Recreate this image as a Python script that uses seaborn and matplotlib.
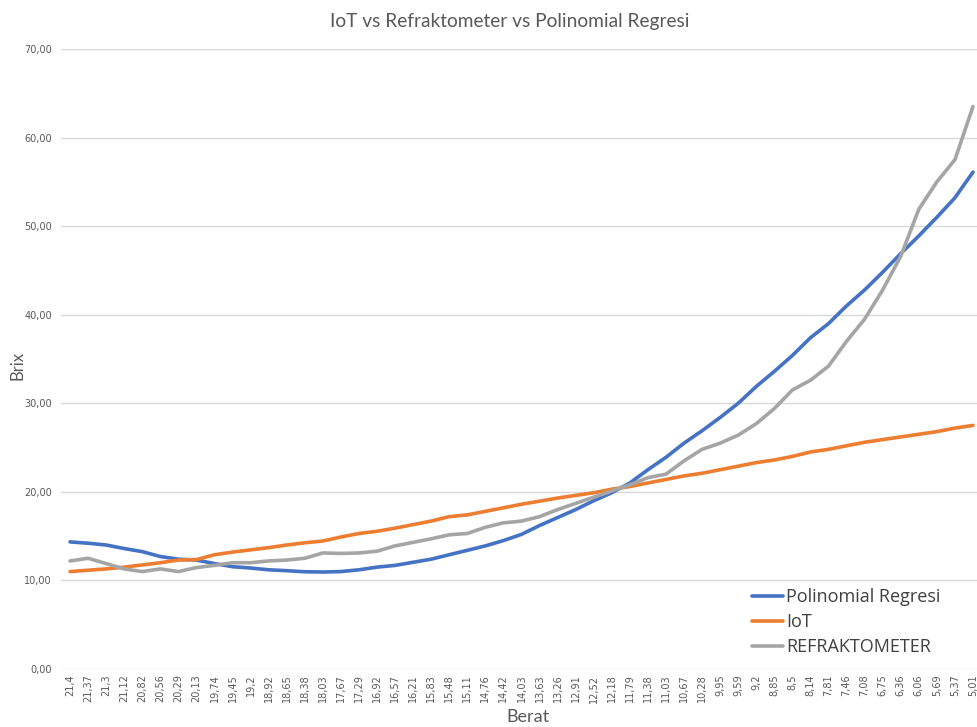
import numpy as np
import pandas as pd
import matplotlib
matplotlib.use("Agg")
import matplotlib.pyplot as plt
import seaborn as sns
from matplotlib.lines import Line2D

# ---- data ----
berat = ["21,4", "21,37", "21,3", "21,12", "20,82", "20,56", "20,29", "20,13", "19,74", "19,45",
         "19,2", "18,92", "18,65", "18,38", "18,03", "17,67", "17,29", "16,92", "16,57", "16,21",
         "15,83", "15,48", "15,11", "14,76", "14,42", "14,03", "13,63", "13,26", "12,91", "12,52",
         "12,18", "11,79", "11,38", "11,03", "10,67", "10,28", "9,95", "9,59", "9,2", "8,85",
         "8,5", "8,14", "7,81", "7,46", "7,08", "6,75", "6,36", "6,06", "5,69", "5,37", "5,01"]

polinomial = [14.35, 14.2, 14.0, 13.6, 13.25, 12.7, 12.4, 12.3, 11.9, 11.55,
              11.4, 11.2, 11.1, 10.98, 10.95, 11.0, 11.2, 11.5, 11.7, 12.05,
              12.4, 12.9, 13.4, 13.9, 14.5, 15.2, 16.2, 17.1, 18.0, 19.0,
              19.9, 21.0, 22.5, 23.9, 25.5, 26.9, 28.4, 30.0, 31.9, 33.6,
              35.4, 37.4, 39.0, 41.0, 42.8, 44.8, 46.9, 48.9, 51.0, 53.2, 56.1]

iot = [11.0, 11.15, 11.3, 11.5, 11.75, 12.0, 12.3, 12.35, 12.9, 13.2,
       13.45, 13.7, 14.0, 14.25, 14.45, 14.9, 15.3, 15.55, 15.9, 16.3,
       16.7, 17.2, 17.4, 17.8, 18.2, 18.6, 18.95, 19.3, 19.6, 19.9,
       20.3, 20.6, 21.0, 21.4, 21.8, 22.1, 22.5, 22.9, 23.3, 23.6,
       24.0, 24.5, 24.8, 25.2, 25.6, 25.9, 26.2, 26.5, 26.8, 27.2, 27.5]

refraktometer = [12.2, 12.5, 11.9, 11.3, 11.0, 11.3, 11.0, 11.45, 11.7, 12.0,
                 12.0, 12.2, 12.3, 12.5, 13.1, 13.05, 13.1, 13.3, 13.9, 14.3,
                 14.7, 15.15, 15.3, 16.0, 16.5, 16.7, 17.2, 18.0, 18.7, 19.4,
                 20.1, 20.8, 21.6, 22.0, 23.5, 24.8, 25.5, 26.4, 27.7, 29.4,
                 31.5, 32.6, 34.2, 37.0, 39.5, 42.8, 46.6, 51.9, 55.0, 57.5, 63.5]

series_names = ["Polinomial Regresi", "IoT", "REFRAKTOMETER"]
colors = ["#4472C4", "#ED7D31", "#A5A5A5"]
y_ticks = [0, 10, 20, 30, 40, 50, 60, 70]

pos = np.arange(len(berat))
df = pd.concat([
    pd.DataFrame({"pos": pos, "Brix": polinomial, "series": series_names[0]}),
    pd.DataFrame({"pos": pos, "Brix": iot, "series": series_names[1]}),
    pd.DataFrame({"pos": pos, "Brix": refraktometer, "series": series_names[2]}),
], ignore_index=True)

sns.set_style("white")
plt.rcParams["font.family"] = ["Lato", "DejaVu Sans"]

W, H = 977, 727
fig = plt.figure(figsize=(W / 100, H / 100), dpi=100)
ax_left, ax_right, ax_top, ax_bottom = 61, 982, 49, 669
ax = fig.add_axes([ax_left / W, 1 - ax_bottom / H, (ax_right - ax_left) / W, (ax_bottom - ax_top) / H])

sns.lineplot(data=df, x="pos", y="Brix", hue="series", hue_order=series_names,
             palette=colors, linewidth=2.6, ax=ax, legend=False, sort=False)
for ln in ax.get_lines():
    ln.set_solid_capstyle("round")
    ln.set_solid_joinstyle("round")

ax.set_xlim(-0.5, len(berat) - 0.5)
ax.set_ylim(0, 70)
ax.set_yticks(y_ticks)
ax.set_yticklabels([f"{v:.2f}".replace(".", ",") for v in y_ticks])
ax.set_xticks(pos)
ax.set_xticklabels(berat, rotation=90)
ax.tick_params(axis="both", length=0, labelsize=7, colors="#595959",
               labelfontfamily="DejaVu Sans")
ax.tick_params(axis="y", pad=6.5)
ax.tick_params(axis="x", pad=4)

ax.grid(axis="y", color="#D9D9D9", linewidth=1)
ax.grid(axis="x", visible=False)
ax.set_axisbelow(True)
for s in ax.spines.values():
    s.set_visible(False)

ax.set_xlabel("")
ax.set_ylabel("")
fig.text(528 / W, 1 - 717 / H, "Berat", ha="center", va="center", fontsize=13, color="#595959")
fig.text(17 / W, 1 - 366 / H, "Brix", ha="center", va="center", rotation=90, fontsize=12, color="#595959")
fig.text(510 / W, 1 - 22 / H, "IoT vs Refraktometer vs Polinomial Regresi", ha="center", va="center",
         fontsize=13.8, color="#595959")

handles = [Line2D([0], [0], color=c, linewidth=2.6) for c in colors]
leg = fig.legend(handles, series_names, loc="upper left", bbox_to_anchor=(752 / W, 1 - 588 / H),
                 frameon=False, prop={"family": ["Open Sans", "DejaVu Sans"], "size": 13},
                 handlelength=1.7, handletextpad=0.18,
                 labelspacing=0.39, borderpad=0, borderaxespad=0)
for t in leg.get_texts():
    t.set_color("#404040")

fig.savefig("out.png", dpi=100)
